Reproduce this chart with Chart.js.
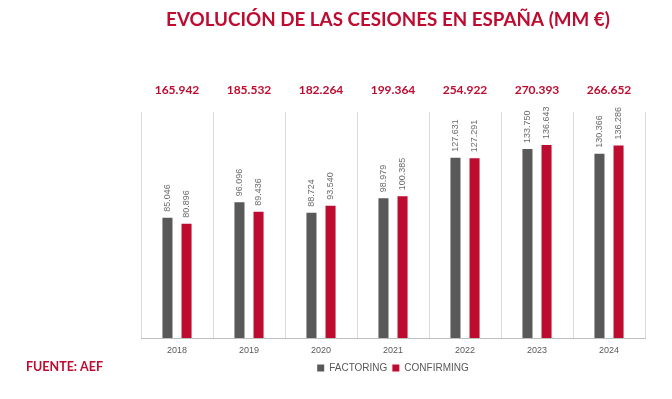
<!DOCTYPE html>
<html>
<head>
<meta charset="utf-8">
<script src="https://cdn.jsdelivr.net/npm/chart.js@4.4.1/dist/chart.umd.min.js"></script>
<style>
html,body{margin:0;padding:0;background:#fff;}
#wrap{width:672px;height:399px;position:relative;}
</style>
</head>
<body>
<div id="wrap"><canvas id="c" width="672" height="399"></canvas></div>
<script>
const years = ['2018','2019','2020','2021','2022','2023','2024'];
const factoring = [85.046, 96.096, 88.724, 98.979, 127.631, 133.750, 130.366];
const confirming = [80.896, 89.436, 93.540, 100.385, 127.291, 136.643, 136.286];
const totals = ['165.942','185.532','182.264','199.364','254.922','270.393','266.652'];
const factoringLabels = ['85.046','96.096','88.724','98.979','127.631','133.750','130.366'];
const confirmingLabels = ['80.896','89.436','93.540','100.385','127.291','136.643','136.286'];
const titleText = 'EVOLUCIÓN DE LAS CESIONES EN ESPAÑA (MM €)';
const sourceText = 'FUENTE: AEF';

const GRAY = '#595959';
const RED = '#BE0B30';

const overlay = {
  id: 'overlay',
  afterDatasetsDraw(chart) {
    const ctx = chart.ctx;
    const xs = chart.scales.x;
    ctx.save();
    // title
    ctx.fillStyle = RED;
    ctx.font = 'bold 18.8px Lato, "Open Sans", sans-serif';
    ctx.textAlign = 'center';
    ctx.textBaseline = 'middle';
    ctx.fillText(titleText, 388, 20);
    // totals
    ctx.font = 'bold 12px Lato, "Open Sans", sans-serif';
    totals.forEach((t, i) => {
      ctx.fillText(t, xs.getPixelForValue(i), 90);
    });
    // source
    ctx.textAlign = 'left';
    ctx.font = 'bold 12.5px Lato, "Open Sans", sans-serif';
    ctx.fillText(sourceText, 26, 367);
    // rotated data labels
    ctx.fillStyle = '#6b6b6b';
    ctx.font = '9px "Liberation Sans", Arial, sans-serif';
    ctx.textAlign = 'left';
    ctx.textBaseline = 'middle';
    [factoringLabels, confirmingLabels].forEach((labs, di) => {
      const meta = chart.getDatasetMeta(di);
      meta.data.forEach((bar, i) => {
        ctx.save();
        ctx.translate(bar.x, bar.y - 6);
        ctx.rotate(-Math.PI / 2);
        ctx.fillText(labs[i], 0, 0);
        ctx.restore();
      });
    });
    ctx.restore();
  }
};

new Chart(document.getElementById('c'), {
  type: 'bar',
  data: {
    labels: years,
    datasets: [
      { label: 'FACTORING', data: factoring, backgroundColor: GRAY },
      { label: 'CONFIRMING', data: confirming, backgroundColor: RED }
    ]
  },
  options: {
    responsive: false,
    animation: false,
    devicePixelRatio: 1,
    categoryPercentage: 0.53,
    barPercentage: 0.526,
    layout: { padding: { left: 141, right: 27, top: 112, bottom: 16 } },
    plugins: {
      tooltip: { enabled: false },
      title: { display: false },
      legend: {
        position: 'bottom',
        labels: {
          boxWidth: 7, boxHeight: 7, padding: 5,
          color: GRAY,
          font: { family: '"Liberation Sans", Arial, sans-serif', size: 10 }
        }
      }
    },
    scales: {
      x: {
        offset: true,
        grid: { display: true, offset: true, color: '#d9d9d9', drawTicks: false, lineWidth: 1 },
        border: { display: true, color: '#bfbfbf' },
        ticks: { color: GRAY, padding: 7, font: { family: '"Liberation Sans", Arial, sans-serif', size: 9 } },
        afterFit(s) { s.height = 20; }
      },
      y: {
        display: false,
        min: 0, max: 160
      }
    }
  },
  plugins: [overlay]
});
</script>
</body>
</html>
